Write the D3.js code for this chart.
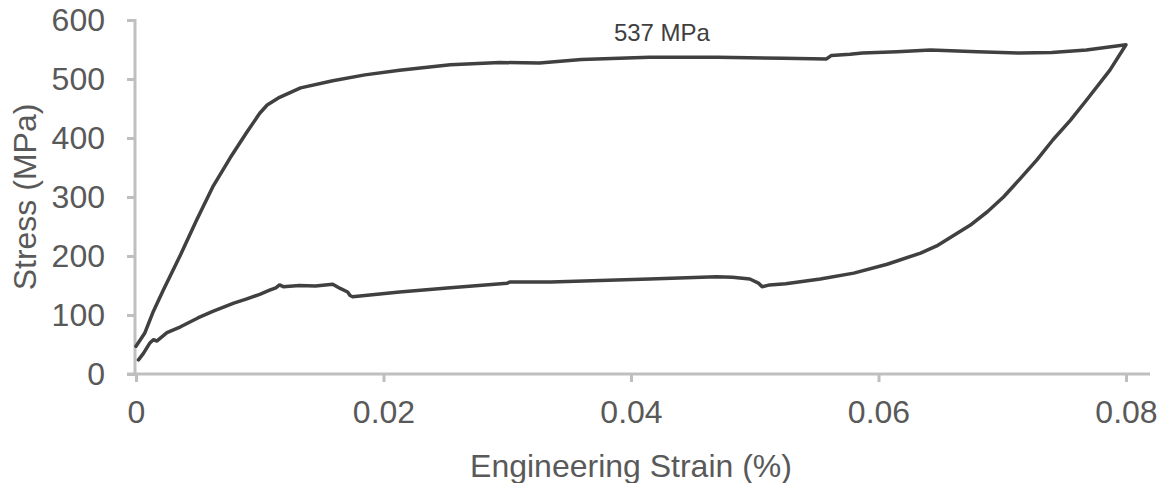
<!DOCTYPE html>
<html>
<head>
<meta charset="utf-8">
<script src="https://cdn.jsdelivr.net/npm/d3@7"></script>
<style>
  body { margin: 0; background: #fff; }
  svg { font-family: "Liberation Sans", Arial, sans-serif; }
</style>
</head>
<body>
<div id="viz"></div>
<script>
'use strict';

// loading branch (upper curve), strain vs stress
var loadStrain = [0, 0.0007, 0.0014, 0.0022, 0.0036, 0.0049, 0.0062, 0.0076, 0.0089, 0.0100, 0.0106,
  0.0116, 0.0133, 0.0159, 0.0185, 0.0213, 0.0254, 0.0294, 0.0326, 0.036, 0.0415, 0.047, 0.0523,
  0.0558, 0.0562, 0.0577, 0.0587, 0.0615, 0.0642, 0.068, 0.0714, 0.074, 0.0768, 0.08];
var loadStress = [47, 69, 106, 142, 202, 261, 317, 366, 408, 442, 456,
  469, 485, 497, 507, 515, 524, 528, 527, 533, 537, 537, 535,
  534, 540, 542, 544, 546, 549, 546, 544, 545, 549, 558];

// unloading / reverse branch (lower curve)
var unloadStrain = [0.08, 0.0787, 0.0768, 0.0755, 0.0741, 0.0728, 0.0714, 0.0701, 0.0688, 0.0674, 0.066,
  0.0647, 0.0634, 0.0607, 0.058, 0.0553, 0.0525, 0.0512, 0.0506, 0.0503, 0.0496, 0.0482, 0.0469,
  0.0415, 0.0335, 0.0302, 0.03, 0.0254, 0.0213, 0.0175, 0.0173,
  0.0171, 0.0165, 0.0159, 0.0145, 0.0132, 0.0119, 0.0116, 0.0113, 0.0108, 0.0100, 0.0089, 0.0079,
  0.0062, 0.0050, 0.0036, 0.0025, 0.0017, 0.0014, 0.0011, 0.0006, 0.0002];
var unloadStress = [558, 515, 464, 430, 397, 363, 330, 300, 275, 252, 234,
  217, 205, 186, 171, 161, 153, 151, 148, 154, 161, 164, 165,
  161, 156, 156, 154, 146, 139, 131, 133,
  139, 145, 152, 149, 150, 148, 151, 146, 142, 135, 127, 120,
  106, 95, 80, 70, 56, 58, 52, 35, 24];

var xTicks = [0, 0.02, 0.04, 0.06, 0.08];
var xTickLabels = ['0', '0.02', '0.04', '0.06', '0.08'];
var yTicks = [0, 100, 200, 300, 400, 500, 600];
var peakLabel = '537 MPa';
var peakStrain = 0.0425;
var peakStress = 537;

var width = 1168, height = 483;
var margin = {top: 20, left: 136, right: 42, bottom: 109};

var svg = d3.select('#viz').append('svg')
    .attr('width', width)
    .attr('height', height);

var x = d3.scaleLinear().domain([0, 0.08]).range([margin.left, 1126]);
var y = d3.scaleLinear().domain([0, 600]).range([374, margin.top]);

var axisColor = '#bfbfbf', textColor = '#595959';

// y axis
var yAxis = svg.append('g')
    .attr('transform', 'translate(' + (margin.left - 1) + ',0)')
    .call(d3.axisLeft(y).tickValues(yTicks).tickSize(8).tickPadding(22));
// x axis
var xAxis = svg.append('g')
    .attr('transform', 'translate(0,' + y(0) + ')')
    .call(d3.axisBottom(x).tickValues(xTicks).tickFormat(function(d, i) { return xTickLabels[i]; })
      .tickSize(8).tickPadding(18));

[xAxis, yAxis].forEach(function(g) {
    g.select('.domain').remove();
    g.selectAll('line').attr('stroke', axisColor).attr('stroke-width', 3);
    g.selectAll('text').attr('fill', textColor).style('font-size', '32px')
      .style('font-family', '"Liberation Sans", Arial, sans-serif');
});

svg.append('line')
    .attr('x1', margin.left - 1).attr('x2', margin.left - 1)
    .attr('y1', y(600) - 1).attr('y2', y(0) + 1.5)
    .attr('stroke', axisColor).attr('stroke-width', 3);
svg.append('line')
    .attr('x1', margin.left - 9).attr('x2', 1150)
    .attr('y1', y(0)).attr('y2', y(0))
    .attr('stroke', axisColor).attr('stroke-width', 3);

// axis titles
svg.append('text')
    .attr('x', (x(0) + x(0.08)) / 2)
    .attr('y', 477)
    .attr('text-anchor', 'middle')
    .attr('fill', textColor)
    .style('font-size', '32px')
    .text('Engineering Strain (%)');

svg.append('text')
    .attr('transform', 'translate(36,' + ((y(0) + y(600)) / 2) + ') rotate(-90)')
    .attr('text-anchor', 'middle')
    .attr('fill', textColor)
    .style('font-size', '32px')
    .text('Stress (MPa)');

// stress-strain loop
var pts = loadStrain.map(function(d, i) { return [d, loadStress[i]]; })
    .concat(unloadStrain.map(function(d, i) { return [d, unloadStress[i]]; }));

var line = d3.line()
    .x(function(d) { return x(d[0]); })
    .y(function(d) { return y(d[1]); });

svg.append('path')
    .datum(pts)
    .attr('d', line)
    .attr('fill', 'none')
    .attr('stroke', '#404040')
    .attr('stroke-width', 3.5)
    .attr('stroke-linejoin', 'round')
    .attr('stroke-linecap', 'round');

svg.append('text')
    .attr('x', x(peakStrain))
    .attr('y', y(peakStress) - 16)
    .attr('text-anchor', 'middle')
    .attr('fill', '#404040')
    .style('font-size', '24px')
    .text(peakLabel);
</script>
</body>
</html>
